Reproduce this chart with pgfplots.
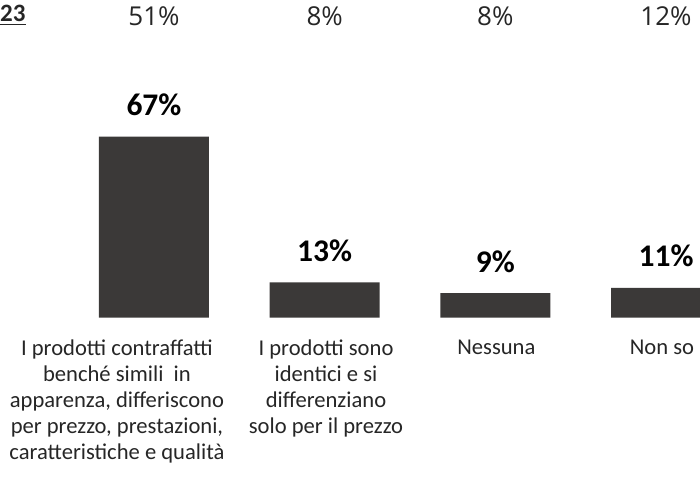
\documentclass[border=0pt]{standalone}
\usepackage{pgfplots}
\pgfplotsset{compat=1.18}
\usepackage{fontspec}
\setmainfont{Carlito}
\newfontfamily\osans{Open Sans}
\definecolor{bargray}{RGB}{59,57,56}
\definecolor{txt}{RGB}{38,38,38}

\begin{document}
\begin{tikzpicture}
\path[use as bounding box] (0,0) rectangle (350pt,239.5pt);
\clip (0,0) rectangle (350pt,239.5pt);
\begin{axis}[
  at={(0pt,80.75pt)}, anchor=south west,
  scale only axis, width=350pt, height=158.75pt,
  xmin=-0.902, xmax=3.199, ymin=0, ymax=117.6,
  axis line style={draw=none}, tick style={draw=none},
  /pgf/number format/assume math mode=true,
  ytick=\empty, xtick={-0.217,1.008,2.006,2.976},
  xticklabels={
    {I prodotti contraffatti\\benché simili\ \ in\\apparenza, differiscono\\per prezzo, prestazioni,\\caratteristiche e qualità},
    {I prodotti sono\\identici e si\\differenziano\\solo per il prezzo},
    {Nessuna},
    {Non so}},
  xticklabel style={align=center, font=\fontsize{11.3}{13}\selectfont,
    text=txt, anchor=north, inner sep=0pt, yshift=-11pt},
  clip=false,
]
% 2024 results
\addplot[ybar, bar width=55pt, fill=bargray, draw=none,
  nodes near coords={\pgfmathprintnumber{\pgfplotspointmeta}\%},
  nodes near coords style={font=\bfseries\fontsize{15.75}{18}\selectfont,
    anchor=base, yshift=10.5pt, text=black},
  point meta=y]
  coordinates {(0,67) (1,13) (2,9) (3,11)};

% 2023 comparison row
\addplot[draw=none, mark=none,
  nodes near coords={\pgfmathprintnumber{\pgfplotspointmeta}\%},
  nodes near coords style={font=\osans\fontsize{13}{15}\selectfont,
    anchor=base, text=txt},
  point meta=explicit]
  coordinates {(0,108.3) [51] (1,108.3) [8] (2,108.3) [8] (3,108.3) [12]};

\node[anchor=base east, inner sep=0pt, font=\bfseries\fontsize{12.5}{14}\selectfont, text=txt]
  at (axis cs:-0.75,109.8) {\underline{2023}};
\end{axis}
\end{tikzpicture}
\end{document}
